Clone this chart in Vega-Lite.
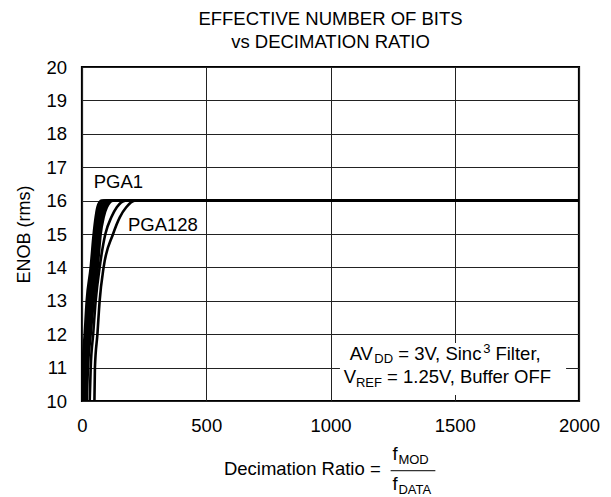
{
  "$schema": "https://vega.github.io/schema/vega-lite/v6.json",
  "width": 497,
  "height": 334,
  "autosize": "none",
  "padding": {"left": 82, "top": 67, "right": 32, "bottom": 96},
  "background": "white",
  "config": {
    "font": "Liberation Sans",
    "view": {"stroke": "black", "strokeWidth": 2.2},
    "axis": {
      "grid": true,
      "gridColor": "#222222",
      "gridWidth": 1,
      "gridOpacity": 1,
      "domain": false,
      "ticks": false,
      "labelOverlap": false,
      "labelFlush": false,
      "labelColor": "black",
      "labelFontSize": 18.5,
      "labelFont": "Liberation Sans",
      "titleColor": "black",
      "titleFont": "Liberation Sans",
      "titleFontWeight": "normal",
      "titleFontSize": 18
    }
  },
  "title": {
    "text": ["EFFECTIVE NUMBER OF BITS", "vs DECIMATION RATIO"],
    "fontSize": 18.5,
    "fontWeight": "normal",
    "font": "Liberation Sans",
    "color": "black",
    "anchor": "middle",
    "offset": 6,
    "lineHeight": 23.3
  },
  "datasets": {
    "curves": [
      {"pga": "PGA1", "ratio": 0, "enob": 10}, {"pga": "PGA1", "ratio": 3, "enob": 11}, {"pga": "PGA1", "ratio": 11, "enob": 12}, {"pga": "PGA1", "ratio": 19, "enob": 13}, {"pga": "PGA1", "ratio": 35, "enob": 14}, {"pga": "PGA1", "ratio": 47, "enob": 15}, {"pga": "PGA1", "ratio": 55, "enob": 15.5}, {"pga": "PGA1", "ratio": 62, "enob": 15.8}, {"pga": "PGA1", "ratio": 78, "enob": 16}, {"pga": "PGA1", "ratio": 2000, "enob": 16},
      {"pga": "PGA2", "ratio": 4, "enob": 10}, {"pga": "PGA2", "ratio": 7, "enob": 11}, {"pga": "PGA2", "ratio": 16, "enob": 12}, {"pga": "PGA2", "ratio": 25, "enob": 13}, {"pga": "PGA2", "ratio": 41, "enob": 14}, {"pga": "PGA2", "ratio": 53, "enob": 15}, {"pga": "PGA2", "ratio": 61, "enob": 15.5}, {"pga": "PGA2", "ratio": 70, "enob": 15.8}, {"pga": "PGA2", "ratio": 87, "enob": 16}, {"pga": "PGA2", "ratio": 2000, "enob": 16},
      {"pga": "PGA4", "ratio": 8, "enob": 10}, {"pga": "PGA4", "ratio": 11, "enob": 11}, {"pga": "PGA4", "ratio": 21, "enob": 12}, {"pga": "PGA4", "ratio": 30, "enob": 13}, {"pga": "PGA4", "ratio": 46, "enob": 14}, {"pga": "PGA4", "ratio": 58, "enob": 15}, {"pga": "PGA4", "ratio": 68, "enob": 15.5}, {"pga": "PGA4", "ratio": 77, "enob": 15.8}, {"pga": "PGA4", "ratio": 97, "enob": 16}, {"pga": "PGA4", "ratio": 2000, "enob": 16},
      {"pga": "PGA8", "ratio": 11, "enob": 10}, {"pga": "PGA8", "ratio": 16, "enob": 11}, {"pga": "PGA8", "ratio": 25, "enob": 12}, {"pga": "PGA8", "ratio": 36, "enob": 13}, {"pga": "PGA8", "ratio": 52, "enob": 14}, {"pga": "PGA8", "ratio": 64, "enob": 15}, {"pga": "PGA8", "ratio": 74, "enob": 15.5}, {"pga": "PGA8", "ratio": 85, "enob": 15.8}, {"pga": "PGA8", "ratio": 106, "enob": 16}, {"pga": "PGA8", "ratio": 2000, "enob": 16},
      {"pga": "PGA16", "ratio": 15, "enob": 10}, {"pga": "PGA16", "ratio": 20, "enob": 11}, {"pga": "PGA16", "ratio": 30, "enob": 12}, {"pga": "PGA16", "ratio": 41, "enob": 13}, {"pga": "PGA16", "ratio": 57, "enob": 14}, {"pga": "PGA16", "ratio": 69, "enob": 15}, {"pga": "PGA16", "ratio": 81, "enob": 15.5}, {"pga": "PGA16", "ratio": 92, "enob": 15.8}, {"pga": "PGA16", "ratio": 116, "enob": 16}, {"pga": "PGA16", "ratio": 2000, "enob": 16},
      {"pga": "PGA32", "ratio": 19, "enob": 10}, {"pga": "PGA32", "ratio": 24, "enob": 11}, {"pga": "PGA32", "ratio": 35, "enob": 12}, {"pga": "PGA32", "ratio": 47, "enob": 13}, {"pga": "PGA32", "ratio": 63, "enob": 14}, {"pga": "PGA32", "ratio": 75, "enob": 15}, {"pga": "PGA32", "ratio": 87, "enob": 15.5}, {"pga": "PGA32", "ratio": 100, "enob": 15.8}, {"pga": "PGA32", "ratio": 125, "enob": 16}, {"pga": "PGA32", "ratio": 2000, "enob": 16},
      {"pga": "PGA64", "ratio": 31, "enob": 10}, {"pga": "PGA64", "ratio": 35, "enob": 11}, {"pga": "PGA64", "ratio": 45, "enob": 12}, {"pga": "PGA64", "ratio": 55, "enob": 13}, {"pga": "PGA64", "ratio": 71, "enob": 14}, {"pga": "PGA64", "ratio": 94, "enob": 15}, {"pga": "PGA64", "ratio": 118, "enob": 15.5}, {"pga": "PGA64", "ratio": 140, "enob": 15.8}, {"pga": "PGA64", "ratio": 175, "enob": 16}, {"pga": "PGA64", "ratio": 2000, "enob": 16},
      {"pga": "PGA128", "ratio": 50, "enob": 10}, {"pga": "PGA128", "ratio": 52, "enob": 11}, {"pga": "PGA128", "ratio": 62, "enob": 12}, {"pga": "PGA128", "ratio": 71, "enob": 13}, {"pga": "PGA128", "ratio": 87, "enob": 14}, {"pga": "PGA128", "ratio": 125, "enob": 15}, {"pga": "PGA128", "ratio": 152, "enob": 15.5}, {"pga": "PGA128", "ratio": 178, "enob": 15.8}, {"pga": "PGA128", "ratio": 212, "enob": 16}, {"pga": "PGA128", "ratio": 2000, "enob": 16}
    ]
  },
  "layer": [
    {
      "data": {"name": "curves"},
      "mark": {"type": "line", "interpolate": "monotone", "color": "black", "clip": true},
      "encoding": {
        "x": {
          "field": "ratio", "type": "quantitative",
          "scale": {"domain": [0, 2000], "nice": false},
          "axis": {"values": [0, 500, 1000, 1500, 2000], "tickCount": 20, "format": "d", "title": null, "labelPadding": 15, "labelFlush": false}
        },
        "y": {
          "field": "enob", "type": "quantitative",
          "scale": {"domain": [10, 20], "nice": false, "zero": false},
          "axis": {"values": [10, 11, 12, 13, 14, 15, 16, 17, 18, 19, 20], "tickCount": 30, "labelOverlap": false, "labelFlush": false, "format": "d", "title": "ENOB (rms)", "labelPadding": 15.5, "titlePadding": 12}
        },
        "detail": {"field": "pga"},
        "strokeWidth": {
          "field": "pga", "type": "ordinal",
          "scale": {"domain": ["PGA1", "PGA2", "PGA4", "PGA8", "PGA16", "PGA32", "PGA64", "PGA128"], "range": [2.6, 2.6, 2.6, 2.6, 2.6, 2.6, 1.5, 1.5]},
          "legend": null
        }
      }
    },
    {
      "data": {"values": [{}]},
      "mark": {"type": "rect", "fill": "white"},
      "encoding": {"x": {"datum": 1038}, "x2": {"datum": 1948}, "y": {"datum": 10.18}, "y2": {"datum": 11.74}}
    },
    {
      "data": {"values": [{}]},
      "mark": {"type": "text", "text": "PGA1", "align": "left", "baseline": "middle", "fontSize": 18.5, "color": "black"},
      "encoding": {"x": {"datum": 47}, "y": {"datum": 16.57}}
    },
    {
      "data": {"values": [{}]},
      "mark": {"type": "text", "text": "PGA128", "align": "left", "baseline": "middle", "fontSize": 18.5, "color": "black"},
      "encoding": {"x": {"datum": 185}, "y": {"datum": 15.27}}
    },
    {
      "data": {"values": [{}]},
      "mark": {"type": "text", "text": "AV", "align": "left", "baseline": "alphabetic", "fontSize": 18.5, "color": "black"},
      "encoding": {"x": {"datum": 1077}, "y": {"datum": 11.228}}
    },
    {
      "data": {"values": [{}]},
      "mark": {"type": "text", "text": "DD", "align": "left", "baseline": "alphabetic", "fontSize": 13, "dx": 24.7, "dy": 3.5, "color": "black"},
      "encoding": {"x": {"datum": 1077}, "y": {"datum": 11.228}}
    },
    {
      "data": {"values": [{}]},
      "mark": {"type": "text", "text": "=\u00a03V,\u00a0Sinc", "align": "left", "baseline": "alphabetic", "fontSize": 18.5, "dx": 48.6, "color": "black"},
      "encoding": {"x": {"datum": 1077}, "y": {"datum": 11.228}}
    },
    {
      "data": {"values": [{}]},
      "mark": {"type": "text", "text": "3", "align": "left", "baseline": "alphabetic", "fontSize": 13, "dx": 133.5, "dy": -7, "color": "black"},
      "encoding": {"x": {"datum": 1077}, "y": {"datum": 11.228}}
    },
    {
      "data": {"values": [{}]},
      "mark": {"type": "text", "text": "Filter,", "align": "left", "baseline": "alphabetic", "fontSize": 18.5, "dx": 145.8, "color": "black"},
      "encoding": {"x": {"datum": 1077}, "y": {"datum": 11.228}}
    },
    {
      "data": {"values": [{}]},
      "mark": {"type": "text", "text": "V", "align": "left", "baseline": "alphabetic", "fontSize": 18.5, "color": "black"},
      "encoding": {"x": {"datum": 1053}, "y": {"datum": 10.548}}
    },
    {
      "data": {"values": [{}]},
      "mark": {"type": "text", "text": "REF", "align": "left", "baseline": "alphabetic", "fontSize": 13, "dx": 12.3, "dy": 4.6, "color": "black"},
      "encoding": {"x": {"datum": 1053}, "y": {"datum": 10.548}}
    },
    {
      "data": {"values": [{}]},
      "mark": {"type": "text", "text": "=\u00a01.25V,\u00a0Buffer\u00a0OFF", "align": "left", "baseline": "alphabetic", "fontSize": 18.5, "dx": 43.4, "color": "black"},
      "encoding": {"x": {"datum": 1053}, "y": {"datum": 10.548}}
    },
    {
      "data": {"values": [{}]},
      "mark": {"type": "text", "text": "Decimation Ratio =", "align": "right", "baseline": "alphabetic", "fontSize": 18.5, "color": "black"},
      "encoding": {"x": {"datum": 1202}, "y": {"datum": 7.784}}
    },
    {
      "data": {"values": [{}]},
      "mark": {"type": "text", "text": "f", "align": "left", "baseline": "alphabetic", "fontSize": 18.5, "color": "black"},
      "encoding": {"x": {"datum": 1249.5}, "y": {"datum": 8.234}}
    },
    {
      "data": {"values": [{}]},
      "mark": {"type": "text", "text": "MOD", "align": "left", "baseline": "alphabetic", "fontSize": 13, "dx": 5.9, "dy": 4, "color": "black"},
      "encoding": {"x": {"datum": 1249.5}, "y": {"datum": 8.234}}
    },
    {
      "data": {"values": [{}]},
      "mark": {"type": "rule", "color": "black", "strokeWidth": 1},
      "encoding": {"x": {"datum": 1242}, "x2": {"datum": 1422}, "y": {"datum": 7.913}}
    },
    {
      "data": {"values": [{}]},
      "mark": {"type": "text", "text": "f", "align": "left", "baseline": "alphabetic", "fontSize": 18.5, "color": "black"},
      "encoding": {"x": {"datum": 1249.5}, "y": {"datum": 7.335}}
    },
    {
      "data": {"values": [{}]},
      "mark": {"type": "text", "text": "DATA", "align": "left", "baseline": "alphabetic", "fontSize": 13, "dx": 5.9, "dy": 3.5, "color": "black"},
      "encoding": {"x": {"datum": 1249.5}, "y": {"datum": 7.335}}
    }
  ]
}
